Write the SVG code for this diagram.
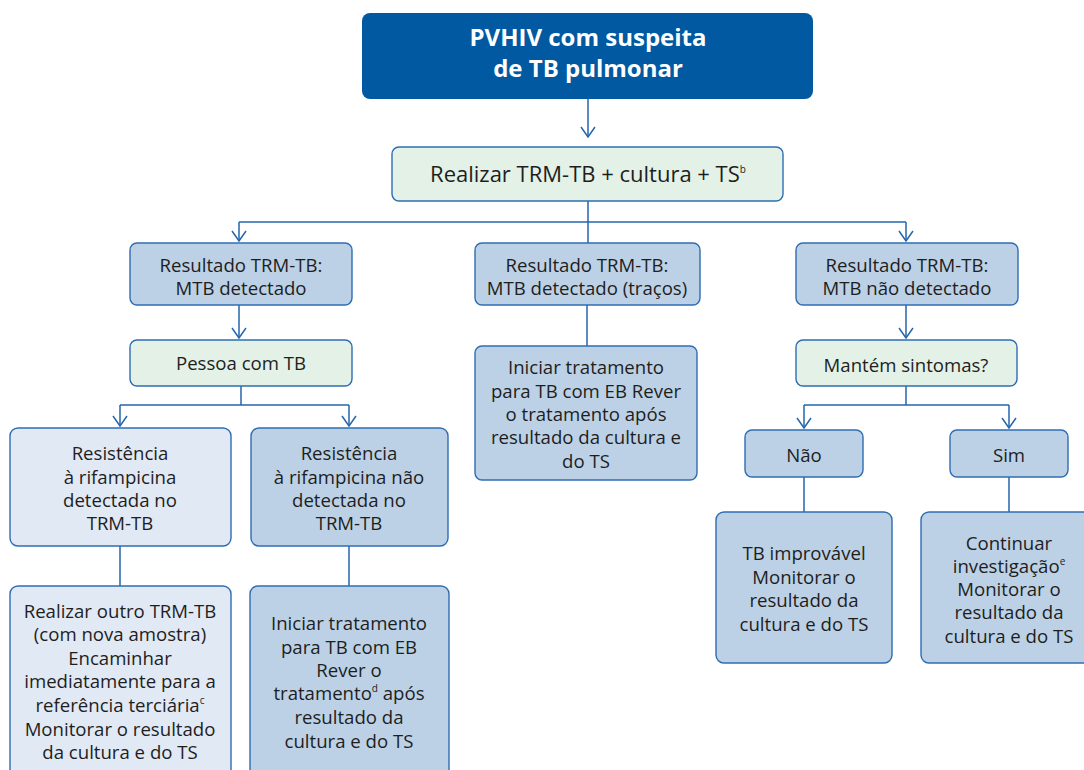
<svg xmlns="http://www.w3.org/2000/svg" width="1084" height="770" viewBox="0 0 1084 770">
<style>
text{font-family:"Open Sans","Noto Sans",sans-serif;font-size:18.6px;fill:#1e1e1e;text-anchor:middle}
.title{font-size:24px;font-weight:bold;fill:#fff}
.big{font-size:22px}
.sup{font-size:10px}
.b{fill:#bcd1e5;stroke:#2e6db3;stroke-width:1.4}
.g{fill:#e3f1e7;stroke:#2e6db3;stroke-width:1.4}
.l{fill:#e1e9f5;stroke:#2e6db3;stroke-width:1.4}
.c{fill:none;stroke:#2566ad;stroke-width:1.5}
</style>
<defs>
<marker id="ah" viewBox="0 0 12 16" refX="11" refY="8" markerWidth="12" markerHeight="16" markerUnits="userSpaceOnUse" orient="auto">
<path d="M1 1 L11 8 L1 15" fill="none" stroke="#2566ad" stroke-width="1.5"/>
</marker>
</defs>
<rect width="1084" height="770" fill="#fff"/>
<g id="connectors">
<path class="c" d="M588 99 V137" marker-end="url(#ah)"/>
<path class="c" d="M588 201 V243"/>
<path class="c" d="M239 222 H906"/>
<path class="c" d="M239 222 V241" marker-end="url(#ah)"/>
<path class="c" d="M906 222 V241" marker-end="url(#ah)"/>
<path class="c" d="M239 305 V338" marker-end="url(#ah)"/>
<path class="c" d="M587 305 V346"/>
<path class="c" d="M906 305 V338" marker-end="url(#ah)"/>
<path class="c" d="M241 386 V405 M120 405 H349"/>
<path class="c" d="M120 405 V426" marker-end="url(#ah)"/>
<path class="c" d="M349 405 V426" marker-end="url(#ah)"/>
<path class="c" d="M120 546 V586"/>
<path class="c" d="M349 546 V586"/>
<path class="c" d="M906 386 V405 M804 405 H1009"/>
<path class="c" d="M804 405 V428" marker-end="url(#ah)"/>
<path class="c" d="M1009 405 V428" marker-end="url(#ah)"/>
<path class="c" d="M804 477 V512"/>
<path class="c" d="M1009 477 V512"/>
</g>
<g id="n1">
<rect x="362" y="13" width="451" height="86" rx="8" fill="#0059a1"/>
<text class="title" x="588" y="46">PVHIV com suspeita</text>
<text class="title" x="588" y="77">de TB pulmonar</text>
</g>
<g id="n2">
<rect class="g" x="392" y="147" width="391" height="54" rx="7"/>
<text class="big" x="588" y="182">Realizar TRM-TB + cultura + TS<tspan class="sup" dy="-9">b</tspan></text>
</g>
<g id="n3">
<rect class="b" x="130" y="243" width="222" height="62" rx="7"/>
<text x="241" y="272">Resultado TRM-TB:</text>
<text x="241" y="295">MTB detectado</text>
</g>
<g id="n4">
<rect class="b" x="475" y="243" width="225" height="62" rx="7"/>
<text x="587" y="272">Resultado TRM-TB:</text>
<text x="587" y="295">MTB detectado (traços)</text>
</g>
<g id="n5">
<rect class="b" x="796" y="243" width="222" height="62" rx="7"/>
<text x="907" y="272">Resultado TRM-TB:</text>
<text x="907" y="295">MTB não detectado</text>
</g>
<g id="n6">
<rect class="g" x="130" y="340" width="222" height="46" rx="7"/>
<text x="241" y="370">Pessoa com TB</text>
</g>
<g id="n7">
<rect class="b" x="475" y="346" width="222" height="134" rx="7"/>
<text x="586" y="374">Iniciar tratamento</text>
<text x="586" y="398">para TB com EB Rever</text>
<text x="586" y="421">o tratamento após</text>
<text x="586" y="444">resultado da cultura e</text>
<text x="586" y="468">do TS</text>
</g>
<g id="n8">
<rect class="g" x="796" y="340" width="221" height="46" rx="7"/>
<text x="906" y="372">Mantém sintomas?</text>
</g>
<g id="n9">
<rect class="l" x="10" y="428" width="221" height="118" rx="8"/>
<text x="120" y="460">Resistência</text>
<text x="120" y="484">à rifampicina</text>
<text x="120" y="507">detectada no</text>
<text x="120" y="530">TRM-TB</text>
</g>
<g id="n10">
<rect class="b" x="251" y="428" width="197" height="118" rx="8"/>
<text x="349" y="460">Resistência</text>
<text x="349" y="484">à rifampicina não</text>
<text x="349" y="507">detectada no</text>
<text x="349" y="530">TRM-TB</text>
</g>
<g id="n11">
<rect class="b" x="745" y="430" width="118" height="47" rx="7"/>
<text x="804" y="462">Não</text>
</g>
<g id="n12">
<rect class="b" x="950" y="430" width="118" height="47" rx="7"/>
<text x="1009" y="462">Sim</text>
</g>
<g id="n13">
<rect class="l" x="10" y="586" width="221" height="194" rx="8"/>
<text x="120" y="618">Realizar outro TRM-TB</text>
<text x="120" y="641">(com nova amostra)</text>
<text x="120" y="665">Encaminhar</text>
<text x="120" y="688">imediatamente para a</text>
<text x="120" y="712">referência terciária<tspan class="sup" dy="-8">c</tspan></text>
<text x="120" y="736">Monitorar o resultado</text>
<text x="120" y="759">da cultura e do TS</text>
</g>
<g id="n14">
<rect class="b" x="250" y="586" width="199" height="194" rx="8"/>
<text x="349" y="630">Iniciar tratamento</text>
<text x="349" y="654">para TB com EB</text>
<text x="349" y="677">Rever o</text>
<text x="349" y="700">tratamento<tspan class="sup" dy="-8">d</tspan><tspan dy="8"> após</tspan></text>
<text x="349" y="724">resultado da</text>
<text x="349" y="748">cultura e do TS</text>
</g>
<g id="n15">
<rect class="b" x="716" y="512" width="176" height="151" rx="8"/>
<text x="804" y="560">TB improvável</text>
<text x="804" y="584">Monitorar o</text>
<text x="804" y="607">resultado da</text>
<text x="804" y="631">cultura e do TS</text>
</g>
<g id="n16">
<rect class="b" x="921" y="512" width="175" height="151" rx="8"/>
<text x="1009" y="550">Continuar</text>
<text x="1009" y="573">investigação<tspan class="sup" dy="-8">e</tspan></text>
<text x="1009" y="596">Monitorar o</text>
<text x="1009" y="619">resultado da</text>
<text x="1009" y="643">cultura e do TS</text>
</g>
</svg>
